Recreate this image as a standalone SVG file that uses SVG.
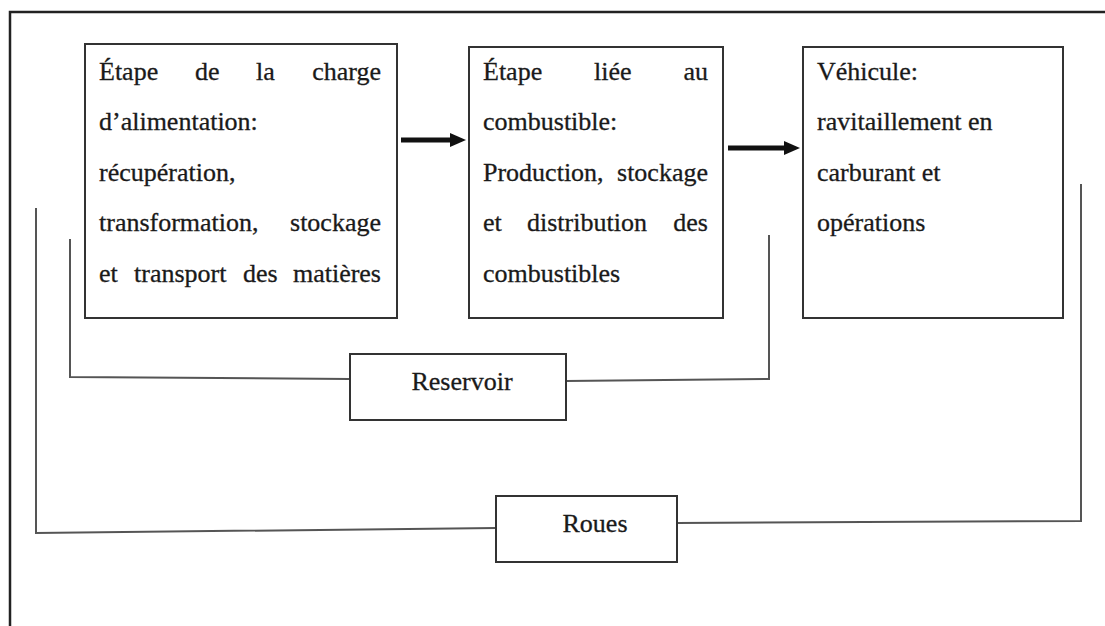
<svg xmlns="http://www.w3.org/2000/svg" width="1105" height="626" viewBox="0 0 1105 626">
  <style>
    .box { fill: #ffffff; stroke: #333333; stroke-width: 2; }
    .conn { fill: none; stroke: #555555; stroke-width: 2; }
    .arrow { fill: none; stroke: #111111; stroke-width: 5; }
    .t { font-family: "Liberation Serif", "Times New Roman", serif; font-size: 26px; fill: #1a1a1a; stroke: #1a1a1a; stroke-width: 0.3; }
    .end { text-anchor: end; }
    .mid { text-anchor: middle; }
  </style>
  <defs>
    <marker id="ah" markerUnits="userSpaceOnUse" markerWidth="16" markerHeight="16" refX="2" refY="8" orient="auto">
      <path d="M0,1 L16,8 L0,15 Z" fill="#111111"/>
    </marker>
  </defs>
  <rect x="0" y="0" width="1105" height="626" fill="#ffffff"/>
  <!-- outer frame -->
  <path d="M10,626 L10,12 L1105,12" fill="none" stroke="#222222" stroke-width="2.5"/>

  <g id="connectors">
    <path class="arrow" d="M401,140 L452,140" marker-end="url(#ah)"/>
    <path class="arrow" d="M728,148 L786,148" marker-end="url(#ah)"/>
    <polyline class="conn" points="70,239 70,377 350,379"/>
    <polyline class="conn" points="566,381 769,379 769,235"/>
    <polyline class="conn" points="36,208 36,533 496,528"/>
    <polyline class="conn" points="677,523 1081,521 1081,184"/>
  </g>

  <g id="node-charge">
    <rect class="box" x="85" y="44" width="312" height="274"/>
    <text class="t" y="80"><tspan x="99">Étape</tspan><tspan x="195">de</tspan><tspan x="256">la</tspan></text>
    <text class="t end" x="381" y="80">charge</text>
    <text class="t" x="99" y="130">d’alimentation:</text>
    <text class="t" x="99" y="181">récupération,</text>
    <text class="t" x="99" y="231">transformation,</text>
    <text class="t end" x="381" y="231">stockage</text>
    <text class="t" y="282"><tspan x="99">et</tspan><tspan x="134">transport</tspan><tspan x="243">des</tspan></text>
    <text class="t end" x="381" y="282">matières</text>
  </g>

  <g id="node-combustible">
    <rect class="box" x="469" y="47" width="254" height="271"/>
    <text class="t" y="80"><tspan x="483">Étape</tspan><tspan x="594">liée</tspan></text>
    <text class="t end" x="708" y="80">au</text>
    <text class="t" x="483" y="130">combustible:</text>
    <text class="t" x="483" y="181">Production,</text>
    <text class="t end" x="708" y="181">stockage</text>
    <text class="t" y="231"><tspan x="483">et</tspan><tspan x="527">distribution</tspan></text>
    <text class="t end" x="708" y="231">des</text>
    <text class="t" x="483" y="282">combustibles</text>
  </g>

  <g id="node-vehicule">
    <rect class="box" x="803" y="47" width="260" height="271"/>
    <text class="t" x="817" y="80">Véhicule:</text>
    <text class="t" x="817" y="130">ravitaillement en</text>
    <text class="t" x="817" y="181">carburant et</text>
    <text class="t" x="817" y="231">opérations</text>
  </g>

  <g id="node-reservoir">
    <rect class="box" x="350" y="354" width="216" height="66"/>
    <text class="t mid" x="462" y="390">Reservoir</text>
  </g>

  <g id="node-roues">
    <rect class="box" x="496" y="496" width="181" height="66"/>
    <text class="t mid" x="595" y="532">Roues</text>
  </g>
</svg>
